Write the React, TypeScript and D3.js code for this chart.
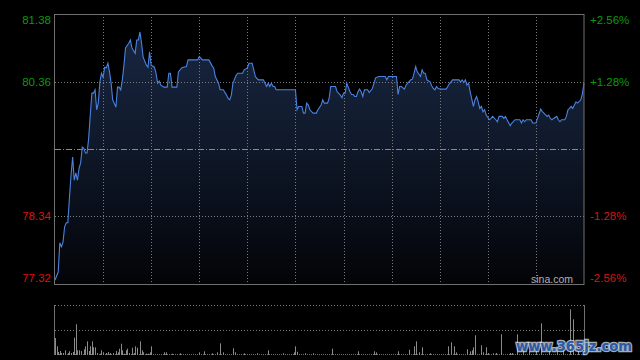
import React from "react";
import * as d3 from "d3";

// Intraday minutes from 09:30 (0) to 16:00 (330), HK session
const minutes = [0,2,3,4,5,6,7,8,9,10,11,12,13,14,15,16,17,18,19,20,21,22,23,24,25,26,27,28,29,30,31,32,33,34,35,36,38,39,40,41,42,43,44,46,47,48,50,51,52,53,54,55,57,58,59,60,62,63,64,65,66,68,70,71,72,73,76,77,79,80,82,83,89,90,92,96,98,99,100,102,103,105,107,108,109,110,111,113,114,117,118,120,121,123,125,126,127,130,131,132,133,134,135,136,137,138,150,151,152,154,155,156,157,158,159,161,163,164,166,167,168,170,171,172,175,176,178,179,180,181,182,184,185,186,187,188,189,190,191,192,193,195,196,198,199,200,202,206,207,208,213,214,215,216,218,219,220,222,223,224,225,226,228,229,230,231,232,234,235,236,237,238,239,241,244,245,246,247,248,252,253,254,255,256,257,258,259,261,262,263,264,265,266,267,268,269,271,272,273,275,276,277,279,280,281,282,284,285,287,290,291,292,293,294,297,298,300,301,303,304,305,307,308,309,310,311,313,314,315,316,318,319,320,321,322,323,324,325,326,328,329,330];
const prices = [77.38,77.50,77.94,77.88,77.95,78.18,78.24,78.24,78.61,78.96,79.23,78.88,78.99,78.88,79.06,79.14,79.38,79.36,79.29,79.29,79.51,79.86,80.19,80.19,80.24,79.94,80.04,80.36,80.49,80.43,80.58,80.57,80.64,80.51,80.34,80.09,79.98,80.28,80.28,80.24,80.39,80.61,80.87,80.94,80.99,80.87,80.79,80.99,80.99,81.11,80.94,80.73,80.61,80.58,80.81,80.61,80.58,80.49,80.34,80.37,80.31,80.28,80.28,80.49,80.49,80.28,80.28,80.51,80.57,80.58,80.59,80.69,80.69,80.74,80.69,80.69,80.60,80.57,80.44,80.34,80.24,80.24,80.16,80.11,80.09,80.16,80.34,80.46,80.49,80.49,80.54,80.57,80.64,80.64,80.44,80.41,80.39,80.39,80.34,80.29,80.34,80.29,80.34,80.29,80.29,80.24,80.24,79.94,79.99,79.99,79.89,79.89,80.04,80.01,79.94,79.89,79.89,79.94,80.01,80.09,80.04,80.04,80.11,80.29,80.29,80.21,80.16,80.12,80.19,80.19,80.34,80.21,80.17,80.17,80.14,80.14,80.21,80.25,80.21,80.14,80.24,80.24,80.20,80.26,80.34,80.42,80.44,80.44,80.39,80.44,80.44,80.17,80.29,80.29,80.25,80.31,80.34,80.39,80.40,80.49,80.59,80.51,80.44,80.54,80.49,80.49,80.39,80.36,80.30,80.26,80.24,80.29,80.26,80.25,80.25,80.29,80.33,80.36,80.39,80.39,80.36,80.39,80.35,80.39,80.31,80.34,80.21,79.99,80.09,80.14,80.06,79.96,79.99,79.91,79.94,79.86,79.79,79.81,79.84,79.79,79.76,79.84,79.84,79.81,79.84,79.79,79.70,79.74,79.79,79.79,79.74,79.79,79.76,79.79,79.79,79.74,79.74,79.81,79.95,79.91,79.89,79.84,79.86,79.81,79.79,79.81,79.84,79.79,79.76,79.79,79.79,79.84,79.94,79.96,79.99,79.96,80.01,80.06,80.04,80.09,80.18,80.34];

const volMinutes = [0,1,2,3,4,5,6,8,9,10,11,12,13,14,15,16,18,19,20,21,22,23,24,25,26,28,29,30,32,33,34,36,38,39,40,41,42,43,44,45,46,48,49,50,51,53,54,55,57,58,59,60,68,69,73,78,90,93,98,101,103,105,111,112,118,126,133,142,149,150,151,156,161,173,189,199,200,214,221,224,225,227,229,234,245,247,249,250,257,259,260,261,262,266,267,269,270,273,275,278,284,285,288,292,296,300,303,308,313,317,321,323,326];
const volumes = [170,87,30,40,20,20,47,20,37,20,30,173,307,47,47,40,57,87,137,40,87,137,77,77,20,13,47,27,20,30,20,20,40,27,63,113,47,13,47,63,20,73,20,87,73,137,47,27,13,13,27,87,27,27,13,17,27,37,17,27,117,27,67,27,17,17,47,17,27,87,33,17,17,63,37,37,27,37,53,87,137,27,77,17,87,127,87,27,57,37,47,77,197,97,27,77,20,17,20,207,20,20,207,60,40,50,317,70,40,60,457,357,60];

const priceTicks = [81.38, 80.36, 78.34, 77.32];
const pctTicks = ["+2.56%", "+1.28%", "-1.28%", "-2.56%"];
const prevClose = 79.35;
const timeGrid = [30, 60, 90, 120, 150, 180, 210, 240, 270, 300];

export default function App() {
  const W = 640, H = 360;
  const L = 55, R = 584, T = 14, B = 284;
  const VT = 305, VB = 355;
  const x = d3.scaleLinear().domain([0, 330]).range([L, R]);
  const y = d3.scaleLinear().domain([77.32, 81.38]).range([B, T]);
  const vy = d3.scaleLinear().domain([0, 500]).range([VB, VT]);
  const pts = minutes.map((m, i) => [m, prices[i]] as [number, number]);
  const line = d3.line<[number, number]>().x(d => x(d[0])).y(d => y(d[1]))(pts) || "";
  const area = d3.area<[number, number]>().x(d => x(d[0])).y0(B).y1(d => y(d[1]))(pts) || "";
  const font = "'Liberation Sans', Arial, sans-serif";
  const green = "#0a9a0a", red = "#dd1010";
  return (
    <svg width={W} height={H} style={{ position: "fixed", left: 0, top: 0, background: "#000" }}>
      <defs>
        <linearGradient id="fillg" gradientUnits="userSpaceOnUse" x1="0" y1={T} x2="0" y2={B}>
          <stop offset="0" stopColor="#1a2845" />
          <stop offset="0.45" stopColor="#101a2c" />
          <stop offset="1" stopColor="#030408" />
        </linearGradient>
      </defs>
      <rect x={0} y={0} width={W} height={H} fill="#000" />
      <path d={area} fill="url(#fillg)" />
      {timeGrid.map(t => (
        <line key={t} x1={Math.round(x(t)) + 0.5} x2={Math.round(x(t)) + 0.5} y1={T} y2={B} stroke="#7a7a7a" strokeDasharray="1,2" />
      ))}
      {[80.36, 78.34].map(v => (
        <line key={v} x1={L} x2={R} y1={Math.round(y(v)) + 0.5} y2={Math.round(y(v)) + 0.5} stroke="#7a7a7a" strokeDasharray="1,2" />
      ))}
      <line x1={L} x2={R} y1={Math.round(y(prevClose)) + 0.5} y2={Math.round(y(prevClose)) + 0.5} stroke="#8a8a8a" strokeDasharray="6,2,1,2" />
      <path d={line} fill="none" stroke="#4a82e0" strokeWidth={1.1} />
      <rect x={L - 0.5} y={T + 0.5} width={R - L + 0.5} height={B - T} fill="none" stroke="#707070" />
      {priceTicks.map((v, i) => {
        let cy = y(v);
        if (i === 0) cy = 20;
        if (i === priceTicks.length - 1) cy = 278;
        return (
          <text key={v} x={51} y={cy + 4} textAnchor="end" fontFamily={font} fontSize={11.5} fill={v > prevClose ? green : red}>{v.toFixed(2)}</text>
        );
      })}
      {pctTicks.map((s, i) => {
        const v = priceTicks[i];
        let cy = y(v);
        if (i === 0) cy = 20;
        if (i === priceTicks.length - 1) cy = 278;
        return (
          <text key={s} x={590} y={cy + 4} fontFamily={font} fontSize={11.5} fill={v > prevClose ? green : red}>{s}</text>
        );
      })}
      <text x={573} y={283} textAnchor="end" fontFamily={font} fontSize={10.5} fill="#b0b0b0">sina.com</text>
      {/* volume panel */}
      <line x1={L} x2={R} y1={VT + 0.5} y2={VT + 0.5} stroke="#7a7a7a" strokeDasharray="1,2" />
      <line x1={L} x2={R} y1={vy(250) + 0.5} y2={vy(250) + 0.5} stroke="#7a7a7a" strokeDasharray="1,2" />
      <line x1={L} x2={R} y1={VB - 0.5} y2={VB - 0.5} stroke="#6a6a6a" strokeDasharray="1,1" />
      {volMinutes.map((m, i) => (
        <rect key={m} x={Math.round(x(m))} y={vy(volumes[i])} width={1} height={VB - vy(volumes[i])} fill="#8a8a8a" />
      ))}
      <line x1={L - 0.5} x2={L - 0.5} y1={VT} y2={VB} stroke="#707070" />
      <line x1={R + 0.5} x2={R + 0.5} y1={VT} y2={VB} stroke="#707070" />
      <text x={516} y={351} textLength={116} lengthAdjust="spacingAndGlyphs" fontFamily="'DejaVu Sans', Verdana, sans-serif" fontWeight="bold" fontSize={14} fill="#2c5aa6" stroke="#dfe6f0" strokeWidth={2.5} strokeOpacity={0.75} style={{ paintOrder: "stroke" }}>www.365jz.com</text>
    </svg>
  );
}
